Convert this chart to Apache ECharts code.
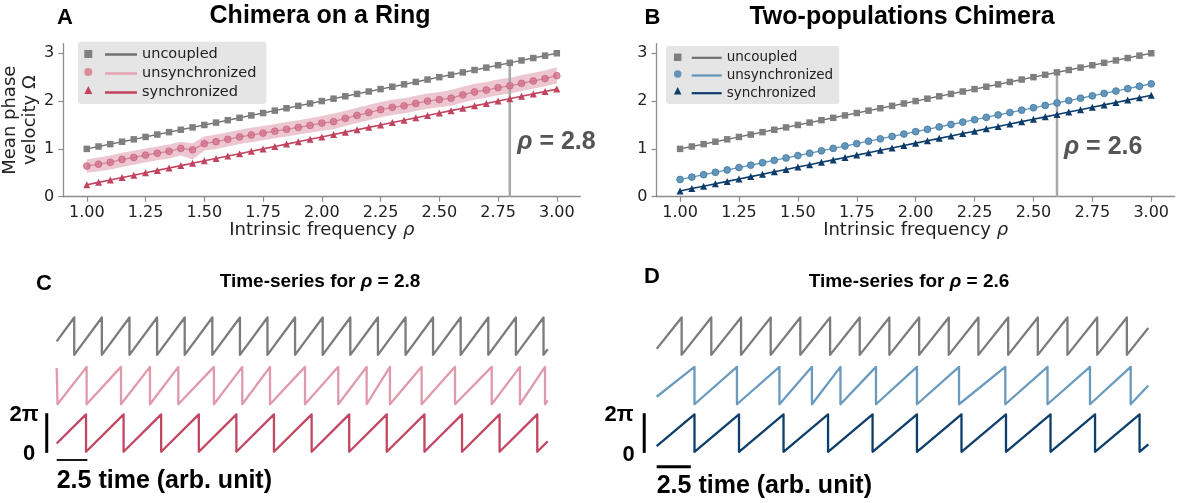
<!DOCTYPE html>
<html>
<head>
<meta charset="utf-8">
<script src="https://cdn.jsdelivr.net/npm/echarts@6/dist/echarts.min.js"></script>
<style>
html,body{margin:0;padding:0;background:#fff;}
#chart{width:1177px;height:503px;}
</style>
</head>
<body>
<div id="chart"></div>
<script>
// ---------------- data ----------------
const rho = [1.00,1.05,1.10,1.15,1.20,1.25,1.30,1.35,1.40,1.45,1.50,1.55,1.60,1.65,1.70,1.75,1.80,1.85,1.90,1.95,2.00,2.05,2.10,2.15,2.20,2.25,2.30,2.35,2.40,2.45,2.50,2.55,2.60,2.65,2.70,2.75,2.80,2.85,2.90,2.95,3.00];
const xTicks = [1.00,1.25,1.50,1.75,2.00,2.25,2.50,2.75,3.00];
const yTicks = [0,1,2,3];

// Panel A: Chimera on a Ring
const ringUncoupled = [1.00,1.05,1.10,1.15,1.20,1.25,1.30,1.35,1.40,1.45,1.50,1.55,1.60,1.65,1.70,1.75,1.80,1.85,1.90,1.95,2.00,2.05,2.10,2.15,2.20,2.25,2.30,2.35,2.40,2.45,2.50,2.55,2.60,2.65,2.70,2.75,2.80,2.85,2.90,2.95,3.00];
const ringUnsync = [0.64,0.68,0.72,0.78,0.82,0.87,0.91,0.95,1.01,0.98,1.11,1.15,1.20,1.25,1.29,1.33,1.37,1.41,1.45,1.49,1.54,1.57,1.64,1.70,1.76,1.82,1.87,1.90,1.95,2.00,2.03,2.06,2.13,2.19,2.23,2.28,2.32,2.37,2.42,2.47,2.53];
const ringUnsyncLo = [0.50,0.53,0.57,0.62,0.67,0.72,0.76,0.80,0.86,0.78,0.96,1.00,1.05,1.10,1.14,1.18,1.22,1.26,1.30,1.34,1.38,1.41,1.48,1.54,1.60,1.66,1.71,1.74,1.79,1.84,1.87,1.90,1.97,2.03,2.07,2.12,2.16,2.21,2.26,2.31,2.37];
const ringUnsyncHi = [0.78,0.82,0.86,0.92,0.96,1.01,1.05,1.09,1.15,1.12,1.26,1.30,1.35,1.40,1.44,1.48,1.52,1.56,1.60,1.64,1.69,1.74,1.80,1.86,1.92,1.98,2.03,2.06,2.11,2.16,2.19,2.23,2.30,2.36,2.40,2.45,2.49,2.54,2.59,2.64,2.71];
const ringSync = [0.25,0.30,0.35,0.40,0.45,0.50,0.55,0.60,0.65,0.70,0.75,0.80,0.85,0.90,0.95,1.00,1.05,1.10,1.15,1.20,1.25,1.30,1.35,1.40,1.45,1.50,1.55,1.60,1.65,1.70,1.75,1.80,1.85,1.90,1.95,2.00,2.05,2.10,2.15,2.20,2.25];
const ringMark = [2.8, 2.8]; // rho, top of line

// Panel B: Two-populations Chimera
const popUncoupled = [1.00,1.05,1.10,1.15,1.20,1.25,1.30,1.35,1.40,1.45,1.50,1.55,1.60,1.65,1.70,1.75,1.80,1.85,1.90,1.95,2.00,2.05,2.10,2.15,2.20,2.25,2.30,2.35,2.40,2.45,2.50,2.55,2.60,2.65,2.70,2.75,2.80,2.85,2.90,2.95,3.00];
const popUnsync = [0.36,0.41,0.46,0.51,0.56,0.61,0.66,0.71,0.76,0.81,0.86,0.91,0.96,1.01,1.06,1.11,1.16,1.21,1.26,1.31,1.36,1.41,1.46,1.51,1.56,1.61,1.66,1.71,1.76,1.81,1.86,1.91,1.96,2.01,2.06,2.11,2.16,2.21,2.26,2.31,2.36];
const popSync = [0.12,0.17,0.22,0.27,0.32,0.37,0.42,0.47,0.52,0.57,0.62,0.67,0.72,0.77,0.82,0.87,0.92,0.97,1.02,1.07,1.12,1.17,1.22,1.27,1.32,1.37,1.42,1.47,1.52,1.57,1.62,1.67,1.72,1.77,1.82,1.87,1.92,1.97,2.02,2.07,2.12];
const popMark = [2.6, 2.6];

// Panels C/D: phase time-series (phase in units of 2π), reset (wrap) times
const ringEndTime = 40;
const ringUncoupledResets = [1.43,3.68,5.93,8.18,10.43,12.68,14.93,17.17,19.42,21.67,23.92,26.17,28.42,30.66,32.91,35.16,37.41,39.66];
const ringUnsyncResets = [0.07,2.44,5.24,7.60,9.91,12.81,15.12,17.38,20.23,22.94,25.25,27.15,29.73,32.45,35.44,37.74,39.78];
const ringSyncResets = [2.39,5.45,8.51,11.58,14.64,17.70,20.77,23.83,26.89,29.96,33.02,36.08,39.15];
const ringStartPhase = [0.36,0.97,0.22];
const ringEndPhase = [0.15,0.10,0.28];

const popEndTime = 36;
const popUncoupledResets = [1.83,4.00,6.18,8.35,10.52,12.70,14.87,17.04,19.22,21.39,23.56,25.74,27.91,30.08,32.26,34.43];
const popUnsyncResets = [2.77,5.88,8.99,11.37,13.46,16.06,19.06,22.14,25.53,28.62,31.73,34.71];
const popSyncResets = [2.77,6.03,9.29,12.55,15.81,19.06,22.32,25.58,28.84,32.10,35.36];
const popStartPhase = [0.16,0.20,0.15];
const popEndPhase = [0.72,0.50,0.20];

const timeBar = [0, 2.5];   // 2.5 time units
const phaseBar = [0, 1];    // 0 .. 2π

// ---------------- helpers ----------------
const pairs = (xs, ys) => xs.map((x, i) => [x, ys[i]]);
function saw(resets, p0, pEnd, tEnd, off) {
  const pts = [[0, p0 + off]];
  resets.forEach(r => { pts.push([r, 1 + off]); pts.push([r, off]); });
  pts.push([tEnd, pEnd + off]);
  return pts;
}
const OFF = [2.59, 1.27, 0];

const GRAY = '#7f7f7f', GRAYLINE = '#707070';
const RED = '#c0435f';
const LBLUE = '#5f93b8', DBLUE = '#0d3c6a';
const TICKFONT = 'DejaVu Sans';
const BOLD = '"Liberation Sans", Arial, sans-serif';
const SQUARE = 'path://M0,0L10,0L10,10L0,10Z';

function xAxisPlot(gi) {
  return {
    type: 'value', gridIndex: gi, min: 0.9, max: 3.1,
    axisLine: { onZero: false, lineStyle: { color: '#8c8c8c', width: 1.3 } },
    axisTick: { show: true, length: 5, customValues: xTicks, lineStyle: { color: '#8c8c8c', width: 1.2 } },
    axisLabel: { customValues: xTicks, formatter: v => v.toFixed(2), fontSize: 16, fontFamily: TICKFONT, color: '#222', margin: 8 },
    splitLine: { show: false },
    name: 'Intrinsic frequency {i|ρ}', nameLocation: 'middle', nameGap: 25,
    nameTextStyle: { fontSize: 18, fontFamily: TICKFONT, color: '#222', rich: { i: { fontSize: 18, fontFamily: TICKFONT, fontStyle: 'italic', color: '#222' } } }
  };
}
function yAxisPlot(gi, withName) {
  const a = {
    type: 'value', gridIndex: gi, min: 0, max: 3.2,
    axisLine: { show: true, onZero: false, lineStyle: { color: '#8c8c8c', width: 1.3 } },
    axisTick: { show: true, length: 5, customValues: yTicks, lineStyle: { color: '#8c8c8c', width: 1.2 } },
    axisLabel: { customValues: yTicks, fontSize: 16, fontFamily: TICKFONT, color: '#222', margin: 9 },
    splitLine: { show: false }
  };
  if (withName) {
    a.name = 'Mean phase\nvelocity Ω';
    a.nameLocation = 'middle'; a.nameRotate = 90; a.nameGap = 23;
    a.nameTextStyle = { fontSize: 18, fontFamily: TICKFONT, color: '#222', lineHeight: 20 };
  }
  return a;
}
const hiddenX = (gi, max) => ({ type: 'value', gridIndex: gi, min: -1, max: max, show: false });
const hiddenY = gi => ({ type: 'value', gridIndex: gi, min: -0.6, max: 3.6, show: false });

function plotSeries(xi, unc, uns, syn, unsColor, unsLine, unsBorder, synColor, mark) {
  return [
    { type: 'line', xAxisIndex: xi, yAxisIndex: xi, data: [[mark[0], 0], [mark[0], mark[1]]], symbol: 'none', silent: true, z: 2,
      lineStyle: { color: '#a8a8a8', width: 2.5 } },
    { type: 'line', name: 'uncoupled', xAxisIndex: xi, yAxisIndex: xi, data: pairs(rho, unc), symbol: 'rect', symbolSize: 6.5, z: 3,
      itemStyle: { color: GRAY }, lineStyle: { color: GRAYLINE, width: 1.4 } },
    { type: 'line', name: 'unsynchronized', xAxisIndex: xi, yAxisIndex: xi, data: pairs(rho, uns), symbol: 'circle', symbolSize: 6.8, z: 4,
      itemStyle: { color: unsColor, borderColor: unsBorder, borderWidth: 0.8 }, lineStyle: { color: unsLine, width: 1.3 } },
    { type: 'line', name: 'synchronized', xAxisIndex: xi, yAxisIndex: xi, data: pairs(rho, syn), symbol: 'triangle', symbolSize: 7, z: 5,
      itemStyle: { color: synColor }, lineStyle: { color: synColor, width: 1.6 } }
  ];
}
function tsSeries(xi, resets, p0, pe, tEnd, colors) {
  return resets.map((r, k) => ({
    type: 'line', xAxisIndex: xi, yAxisIndex: xi, data: saw(r, p0[k], pe[k], tEnd, OFF[k]),
    symbol: 'none', silent: true, clip: false,
    lineStyle: { color: colors[k], width: 2.3, join: 'round' }
  }));
}
function barSeries(xi, vx, hy, hWidth) {
  return [
    { type: 'line', xAxisIndex: xi, yAxisIndex: xi, data: [[vx, phaseBar[0] - 0.03], [vx, phaseBar[1] + 0.03]], symbol: 'none', silent: true, clip: false,
      lineStyle: { color: '#000', width: 3 } },
    { type: 'line', xAxisIndex: xi, yAxisIndex: xi, data: [[timeBar[0], hy], [timeBar[1], hy]], symbol: 'none', silent: true, clip: false,
      lineStyle: { color: '#000', width: hWidth } }
  ];
}
function bandSeries(xi, lo, hi, fill) {
  return {
    type: 'custom', xAxisIndex: xi, yAxisIndex: xi, data: [[rho[0], lo[0]]], silent: true, z: 1, clip: true,
    renderItem: function (params, api) {
      const pts = [];
      for (let i = 0; i < rho.length; i++) pts.push(api.coord([rho[i], hi[i]]));
      for (let i = rho.length - 1; i >= 0; i--) pts.push(api.coord([rho[i], lo[i]]));
      return { type: 'polygon', shape: { points: pts }, style: { fill: fill, stroke: null } };
    }
  };
}

function legendPair(box, rows, lineW, lineH, font, colors) {
  const names = ['uncoupled', 'unsynchronized', 'synchronized'];
  const icons = [SQUARE, 'circle', 'triangle'];
  const firstCenter = box[1] + rows.padTop + rows.lh / 2;
  return [
    {
      orient: 'vertical', left: box[0], top: box[1], selectedMode: false, z: 4,
      backgroundColor: '#e5e5e5', borderRadius: 3,
      padding: [rows.padTop, rows.padRight, rows.padBottom, rows.lineLeft - box[0]],
      itemWidth: lineW, itemHeight: lineH, itemGap: rows.gap, symbolKeepAspect: false,
      textStyle: { fontSize: font, fontFamily: TICKFONT, color: '#222', lineHeight: rows.lh },
      data: names.map((n, i) => ({ name: n, icon: 'rect', itemStyle: { color: colors.lines[i], borderWidth: 0 } }))
    },
    {
      orient: 'vertical', left: rows.markerCx - rows.msize / 2, top: firstCenter - rows.msize / 2, selectedMode: false, z: 6,
      padding: 0, itemWidth: rows.msize, itemHeight: rows.msize, itemGap: rows.lh + rows.gap - rows.msize, symbolKeepAspect: true,
      formatter: () => '',
      textStyle: { fontSize: 1, lineHeight: 1 },
      data: names.map((n, i) => ({ name: n, icon: icons[i], itemStyle: { color: colors.markers[i], borderWidth: 0 } }))
    }
  ];
}

function txt(x, y, text, size, opts) {
  opts = opts || {};
  const font = 'bold ' + size + 'px ' + BOLD;
  return {
    type: 'text', x: x, y: y, silent: true, z: 10,
    style: {
      text: text, font: font, fill: opts.color || '#000',
      align: opts.align || 'center', verticalAlign: 'middle',
      textAlign: opts.align || 'center', textVerticalAlign: 'middle',
      rich: opts.rich
    }
  };
}
function richRho(size, color) {
  return {
    n: { font: 'bold ' + size + 'px ' + BOLD, fill: color },
    i: { font: 'italic bold ' + size + 'px ' + BOLD, fill: color }
  };
}

const chart = echarts.init(document.getElementById('chart'), null, { renderer: 'canvas' });
const option = {
  animation: false,
  backgroundColor: '#fff',
  grid: [
    { left: 63.3, top: 43.7, width: 517, height: 153, outerBoundsMode: 'none' },
    { left: 656.5, top: 43.7, width: 518.3, height: 153, outerBoundsMode: 'none' },
    { left: 44.4, top: 317.1, width: 503.3, height: 157.1, outerBoundsMode: 'none' },
    { left: 643.0, top: 317.1, width: 505.3, height: 157.1, outerBoundsMode: 'none' }
  ],
  xAxis: [xAxisPlot(0), xAxisPlot(1), hiddenX(2, ringEndTime), hiddenX(3, popEndTime)],
  yAxis: [yAxisPlot(0, true), yAxisPlot(1, false), hiddenY(2), hiddenY(3)],
  legend: [].concat(
    legendPair([78, 41.7, 268, 101],
      { padTop: 5.3, padBottom: 4, padRight: 10, lineLeft: 105, markerCx: 88.3, msize: 8, lh: 14, gap: 4 },
      32, 2.5, 14.5,
      { lines: [GRAYLINE, '#e6a3b4', RED], markers: [GRAY, '#d98a9e', RED] }),
    legendPair([666, 46, 840, 101],
      { padTop: 4.8, padBottom: 3.8, padRight: 6, lineLeft: 691.7, markerCx: 677.7, msize: 7.5, lh: 13, gap: 3.7 },
      30, 2.2, 13.5,
      { lines: [GRAYLINE, LBLUE, DBLUE], markers: [GRAY, LBLUE, DBLUE] })
  ),
  series: [].concat(
    [bandSeries(0, ringUnsyncLo, ringUnsyncHi, 'rgba(206,104,134,0.38)')],
    plotSeries(0, ringUncoupled, ringUnsync, ringSync, 'rgba(212,112,140,0.78)', '#d4879b', 'rgba(192,80,112,0.7)', RED, ringMark),
    plotSeries(1, popUncoupled, popUnsync, popSync, '#6496bb', LBLUE, '#3f78a0', DBLUE, popMark),
    tsSeries(2, [ringUncoupledResets, ringUnsyncResets, ringSyncResets], ringStartPhase, ringEndPhase, ringEndTime, ['#7c7c7c', '#e09aab', '#c24763']),
    barSeries(2, -0.81, -0.22, 1.8),
    tsSeries(3, [popUncoupledResets, popUnsyncResets, popSyncResets], popStartPhase, popEndPhase, popEndTime, ['#7c7c7c', '#6a9bbf', '#0e3e6a']),
    barSeries(3, -0.91, -0.40, 3)
  ),
  graphic: [
    txt(65, 18, 'A', 22),
    txt(320, 16, 'Chimera on a Ring', 25),
    txt(652.5, 18, 'B', 22),
    txt(902, 17, 'Two-populations Chimera', 25),
    txt(517.3, 142, '{i|ρ}{n| = 2.8}', 25, { align: 'left', color: '#555', rich: richRho(25, '#555') }),
    txt(1064, 147, '{i|ρ}{n| = 2.6}', 25, { align: 'left', color: '#555', rich: richRho(25, '#555') }),
    txt(44, 284, 'C', 22),
    txt(320, 281.5, '{n|Time-series for }{i|ρ}{n| = 2.8}', 19, { rich: richRho(19, '#000') }),
    txt(652, 277, 'D', 22),
    txt(909, 281.5, '{n|Time-series for }{i|ρ}{n| = 2.6}', 19, { rich: richRho(19, '#000') }),
    txt(38.5, 415, '2π', 22, { align: 'right' }),
    txt(29.2, 454, '0', 22),
    txt(633.5, 415, '2π', 22, { align: 'right' }),
    txt(628.7, 455, '0', 22),
    txt(56.7, 481, '2.5 time (arb. unit)', 25, { align: 'left' }),
    txt(656.7, 486, '2.5 time (arb. unit)', 25, { align: 'left' })
  ]
};
chart.setOption(option);
</script>
</body>
</html>
